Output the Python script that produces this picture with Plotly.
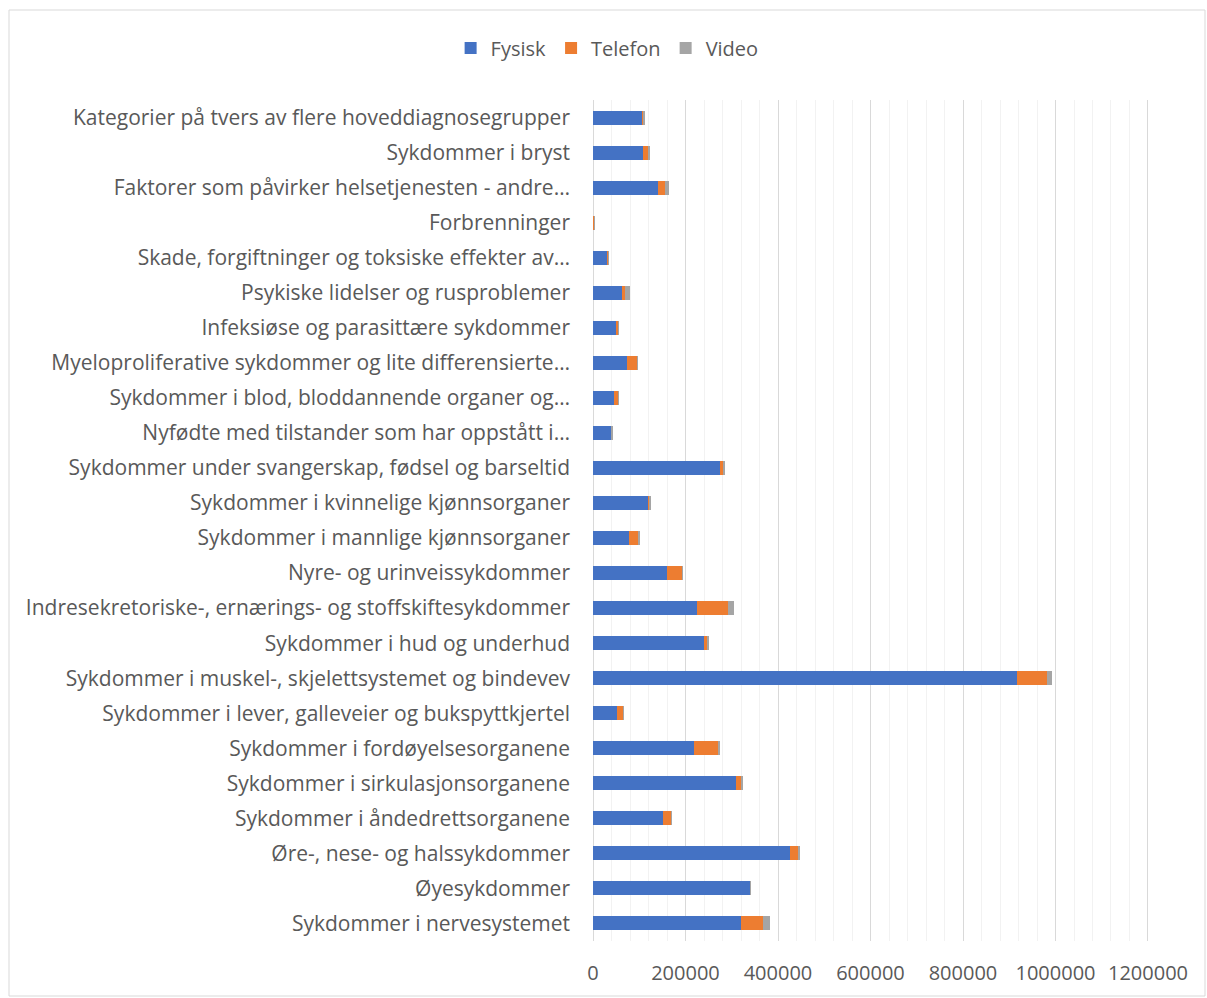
import plotly.graph_objects as go

# Categories listed bottom -> top (Excel order)
categories = [
    "Sykdommer i nervesystemet",
    "Øyesykdommer",
    "Øre-, nese- og halssykdommer",
    "Sykdommer i åndedrettsorganene",
    "Sykdommer i sirkulasjonsorganene",
    "Sykdommer i fordøyelsesorganene",
    "Sykdommer i lever, galleveier og bukspyttkjertel",
    "Sykdommer i muskel-, skjelettsystemet og bindevev",
    "Sykdommer i hud og underhud",
    "Indresekretoriske-, ernærings- og stoffskiftesykdommer",
    "Nyre- og urinveissykdommer",
    "Sykdommer i mannlige kjønnsorganer",
    "Sykdommer i kvinnelige kjønnsorganer",
    "Sykdommer under svangerskap, fødsel og barseltid",
    "Nyfødte med tilstander som har oppstått i…",
    "Sykdommer i blod, bloddannende organer og…",
    "Myeloproliferative sykdommer og lite differensierte…",
    "Infeksiøse og parasittære sykdommer",
    "Psykiske lidelser og rusproblemer",
    "Skade, forgiftninger og toksiske effekter av…",
    "Forbrenninger",
    "Faktorer som påvirker helsetjenesten - andre…",
    "Sykdommer i bryst",
    "Kategorier på tvers av flere hoveddiagnosegrupper",
]

fysisk = [321000, 340000, 425000, 151000, 310000, 219000, 51000, 916000, 241000,
          224000, 160000, 77000, 118000, 274500, 40000, 44500, 74500, 50000,
          62000, 31000, 2000, 140000, 108000, 108000]
telefon = [47000, 500, 20000, 19000, 11500, 53000, 14500, 65400, 7000,
           68000, 33500, 22000, 5000, 8000, 1000, 10000, 22000, 4500,
           8000, 2500, 500, 16000, 13000, 2000]
video = [15000, 300, 3000, 500, 1500, 3500, 500, 11000, 2000,
         13000, 1000, 500, 1000, 2000, 300, 500, 500, 500,
         9000, 500, 500, 8000, 1000, 300]

series_names = ["Fysisk", "Telefon", "Video"]
colors = ["#4472C4", "#ED7D31", "#A5A5A5"]
x_ticks = [0, 200000, 400000, 600000, 800000, 1000000, 1200000]

FONT = "Open Sans"
TXT = "#595959"

fig = go.Figure()
for name, vals, col in zip(series_names, [fysisk, telefon, video], colors):
    fig.add_trace(go.Bar(
        y=categories, x=vals, name=name, orientation="h",
        marker=dict(color=col, line=dict(width=0)),
    ))

fig.update_layout(
    barmode="stack",
    bargap=0.6,
    width=1207, height=998,
    margin=dict(l=590, r=56, t=100, b=57),
    paper_bgcolor="white", plot_bgcolor="white",
    font=dict(family=FONT, size=20, color=TXT),
    legend=dict(
        orientation="h", xref="container", yref="container",
        x=0.503, y=0.952, xanchor="center", yanchor="middle",
        font=dict(family=FONT, size=20, color=TXT),
        traceorder="normal", itemwidth=30,
    ),
    xaxis=dict(
        range=[-6500, 1206500], tickvals=x_ticks,
        ticktext=[str(v) for v in x_ticks],
        showgrid=True, gridcolor="#D9D9D9", gridwidth=1,
        minor=dict(dtick=40000, showgrid=True, gridcolor="#F2F2F2", gridwidth=1),
        zeroline=False, showline=False, ticks="",
        tickfont=dict(family=FONT, size=20, color=TXT),
        ticklabelstandoff=18, automargin=False,
    ),
    yaxis=dict(
        type="category", categoryorder="array", categoryarray=categories,
        range=[-0.5, len(categories) - 0.5],
        showgrid=False, zeroline=False, showline=False, ticks="",
        tickfont=dict(family=FONT, size=21, color=TXT),
        ticklabelstandoff=19, automargin=False,
    ),
    shapes=[dict(
        type="rect", xref="paper", yref="paper",
        x0=(9 - 590) / 561, x1=(1205 - 590) / 561,
        y0=-(996 - 941) / 841, y1=1 + (100 - 10) / 841,
        line=dict(color="#D9D9D9", width=1), layer="below",
    )],
)

fig.write_html("out.html")
